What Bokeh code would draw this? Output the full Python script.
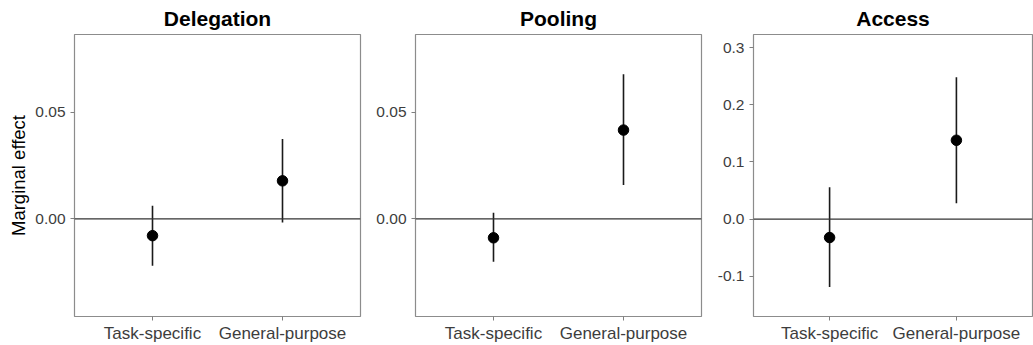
from bokeh.plotting import figure
from bokeh.models import FactorRange, Range1d, Span, Title, FixedTicker
from bokeh.layouts import row
from bokeh.embed import file_html
from bokeh.resources import INLINE

# ---- data ----
categories = ["Task-specific", "General-purpose"]
panel_titles = ["Delegation", "Pooling", "Access"]

deleg_est = [-0.0079, 0.0178]
deleg_lo = [-0.0220, -0.0017]
deleg_hi = [0.0061, 0.0374]

pool_est = [-0.0089, 0.0416]
pool_lo = [-0.0201, 0.0159]
pool_hi = [0.0028, 0.0678]

access_est = [-0.032, 0.138]
access_lo = [-0.1185, 0.0279]
access_hi = [0.0557, 0.248]

ticks_small = [0.0, 0.05]
tick_labels_small = ["0.00", "0.05"]
ticks_access = [-0.1, 0.0, 0.1, 0.2, 0.3]
tick_labels_access = ["-0.1", "0.0", "0.1", "0.2", "0.3"]

y_label = "Marginal effect"

FONT = "Liberation Sans"


def make_panel(title, est, lo, hi, yr, ticks, tlabels, width, left, right, ylabel=None):
    p = figure(
        x_range=FactorRange(*categories, range_padding=0.1),
        y_range=Range1d(*yr),
        width=width, height=345,
        output_backend="svg", toolbar_location=None,
        min_border_left=left, min_border_right=right,
        min_border_top=34, min_border_bottom=28,
    )
    p.title = Title(text=title, align="center", text_font=FONT,
                    text_font_size="21px", text_font_style="bold",
                    text_color="black", standoff=9, offset=0)
    p.background_fill_color = "white"
    p.border_fill_color = "white"
    p.outline_line_color = "#8c8c8c"
    p.outline_line_width = 1.2
    p.grid.visible = False

    for ax in (p.xaxis[0], p.yaxis[0]):
        ax.axis_line_color = None
        ax.major_tick_line_color = "#7f7f7f"
        ax.major_tick_in = 0
        ax.major_tick_out = 4
        ax.minor_tick_line_color = None
        ax.major_label_text_font = FONT
        ax.major_label_text_color = "#3d3d3d"
    p.xaxis.major_label_standoff = 3
    p.yaxis.major_label_standoff = 5
    p.xaxis.major_label_text_font_size = "17px"
    p.yaxis.major_label_text_font_size = "15.5px"
    p.yaxis.ticker = FixedTicker(ticks=ticks)
    p.yaxis.major_label_overrides = {t: l for t, l in zip(ticks, tlabels)}
    if ylabel:
        p.yaxis.axis_label = ylabel
        p.yaxis.axis_label_text_font = FONT
        p.yaxis.axis_label_text_font_size = "18.5px"
        p.yaxis.axis_label_text_font_style = "normal"
        p.yaxis.axis_label_text_color = "black"
        p.yaxis.axis_label_standoff = 3

    p.add_layout(Span(location=0, dimension="width", line_color="#333333", line_width=1.3))
    p.segment(x0=categories, y0=lo, x1=categories, y1=hi,
              line_color="#1a1a1a", line_width=1.6)
    p.scatter(x=categories, y=est, size=10.5, color="black")
    return p


p1 = make_panel(panel_titles[0], deleg_est, deleg_lo, deleg_hi, (-0.0458, 0.0864),
                ticks_small, tick_labels_small, 365, 74, 5, y_label)
p2 = make_panel(panel_titles[1], pool_est, pool_lo, pool_hi, (-0.0458, 0.0864),
                ticks_small, tick_labels_small, 341, 50, 5)
p3 = make_panel(panel_titles[2], access_est, access_lo, access_hi, (-0.170, 0.3228),
                ticks_access, tick_labels_access, 327, 47, 1)

layout = row(p1, p2, p3)
open("out.html", "w").write(file_html(layout, INLINE))
